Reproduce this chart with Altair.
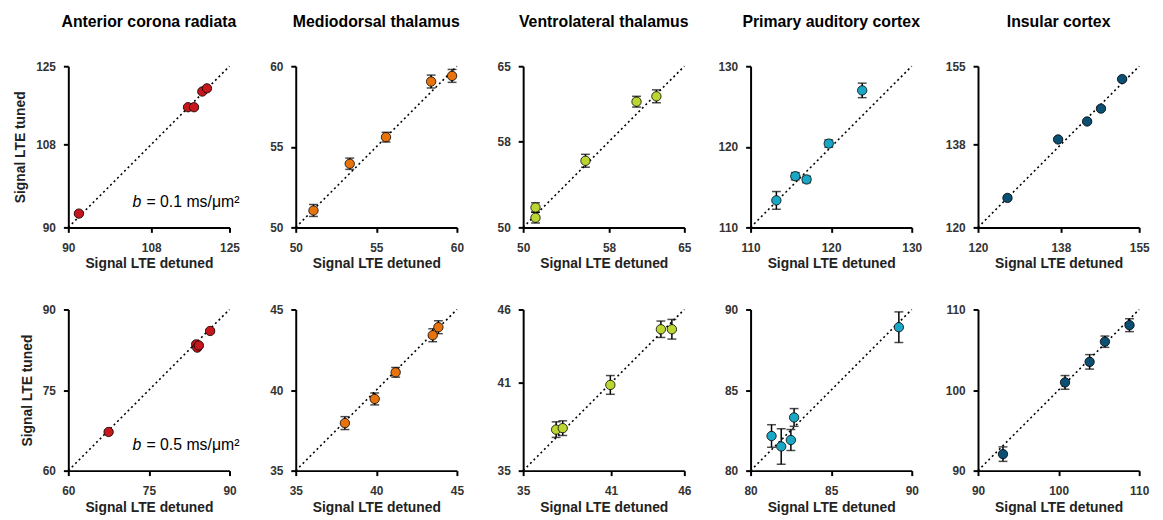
import altair as alt
import pandas as pd

regions = ["Anterior corona radiata", "Mediodorsal thalamus", "Ventrolateral thalamus",
           "Primary auditory cortex", "Insular cortex"]
colors = ["#c8161d", "#e8730c", "#bcd631", "#1aa7c6", "#0b5073"]
b_labels = ["0.1", "0.5"]

ticks_b01 = [[90, 108, 125], [50, 55, 60], [50, 58, 65], [110, 120, 130], [120, 138, 155]]
ticks_b05 = [[60, 75, 90], [35, 40, 45], [35, 41, 46], [80, 85, 90], [90, 100, 110]]

# b = 0.1 ms/um^2
det_b01 = [
    [92.3, 116.0, 117.3, 119.1, 120.1],
    [51.1, 53.35, 55.6, 58.4, 59.7],
    [51.15, 51.15, 55.8, 60.55, 62.4],
    [113.2, 115.55, 116.95, 119.7, 123.85],
    [126.4, 137.4, 143.7, 146.7, 151.3],
]
tun_b01 = [
    [93.0, 116.1, 116.1, 119.5, 120.2],
    [51.05, 53.95, 55.6, 59.05, 59.4],
    [50.9, 51.85, 56.2, 61.7, 62.2],
    [113.35, 116.35, 115.95, 120.4, 127.0],
    [126.4, 139.1, 143.0, 145.8, 152.2],
]
err_b01 = [
    [0.3, 0.3, 0.3, 0.3, 0.3],
    [0.37, 0.35, 0.3, 0.4, 0.4],
    [0.5, 0.45, 0.6, 0.5, 0.6],
    [1.1, 0.45, 0.4, 0.45, 0.9],
    [0.3, 0.3, 0.3, 0.3, 0.3],
]

# b = 0.5 ms/um^2
det_b05 = [
    [67.5, 83.8, 84.0, 84.3, 86.4],
    [38.05, 39.9, 41.2, 43.5, 43.85],
    [37.25, 37.7, 40.95, 44.4, 45.15],
    [81.3, 81.9, 82.5, 82.7, 89.2],
    [93.1, 100.8, 103.85, 105.75, 108.8],
]
tun_b05 = [
    [67.2, 83.5, 82.9, 83.3, 86.0],
    [37.95, 39.45, 41.1, 43.4, 43.9],
    [37.8, 37.9, 40.85, 44.65, 44.65],
    [82.15, 81.5, 81.9, 83.3, 88.9],
    [92.05, 100.95, 103.5, 106.0, 108.05],
]
err_b05 = [
    [0.3, 0.3, 0.3, 0.3, 0.3],
    [0.4, 0.37, 0.3, 0.4, 0.4],
    [0.53, 0.5, 0.64, 0.56, 0.67],
    [0.7, 1.1, 0.65, 0.55, 0.95],
    [0.9, 0.85, 0.9, 0.7, 0.8],
]

FONT = "Liberation Sans"
W = 163
H = 163


def panel(det, tun, err, ticks, color, title, first_col, b_label):
    df = pd.DataFrame({"detuned": det, "tuned": tun, "err": err})
    df["lo"] = df["tuned"] - df["err"]
    df["hi"] = df["tuned"] + df["err"]
    dom = [ticks[0], ticks[-1]]
    sc = alt.Scale(domain=dom, nice=False, zero=False)
    xax = alt.Axis(values=ticks, title="Signal LTE detuned")
    yax = alt.Axis(values=ticks, title="Signal LTE tuned" if first_col else None)

    diag = alt.Chart(pd.DataFrame({"v": dom})).mark_line(
        strokeDash=[2, 3], color="black", strokeWidth=1.6
    ).encode(
        x=alt.X("v:Q", scale=sc, axis=xax),
        y=alt.Y("v:Q", scale=sc, axis=yax),
    )
    base = alt.Chart(df)
    rule = base.mark_rule(color="black", strokeWidth=1.5).encode(
        x=alt.X("detuned:Q", scale=sc, axis=xax),
        y=alt.Y("lo:Q", scale=sc, axis=yax),
        y2="hi:Q",
    )
    cap_lo = base.mark_tick(orient="horizontal", size=9, thickness=1.5, color="black").encode(
        x=alt.X("detuned:Q", scale=sc, axis=xax),
        y=alt.Y("lo:Q", scale=sc, axis=yax),
    )
    cap_hi = base.mark_tick(orient="horizontal", size=9, thickness=1.5, color="black").encode(
        x=alt.X("detuned:Q", scale=sc, axis=xax),
        y=alt.Y("hi:Q", scale=sc, axis=yax),
    )
    pts = base.mark_circle(size=90, color=color, opacity=1, stroke="black", strokeWidth=0.8).encode(
        x=alt.X("detuned:Q", scale=sc, axis=xax),
        y=alt.Y("tuned:Q", scale=sc, axis=yax),
    )
    layers = [diag, rule, cap_lo, cap_hi, pts]
    if first_col:
        tb = alt.Chart(pd.DataFrame({"t": ["b"]})).mark_text(
            font=FONT, fontSize=16, fontStyle="italic", align="left", baseline="alphabetic", color="black"
        ).encode(x=alt.value(65), y=alt.value(142), text="t:N")
        tr = alt.Chart(pd.DataFrame({"t": ["= " + b_label + " ms/\u03bcm\u00b2"]})).mark_text(
            font=FONT, fontSize=16, align="left", baseline="alphabetic", color="black"
        ).encode(x=alt.value(79), y=alt.value(142), text="t:N")
        layers += [tb, tr]
    ch = alt.layer(*layers).properties(width=W, height=H)
    if title:
        ch = ch.properties(title=title)
    return ch


panels = []
for i in range(5):
    panels.append(panel(det_b01[i], tun_b01[i], err_b01[i], ticks_b01[i], colors[i], regions[i], i == 0, b_labels[0]))
for i in range(5):
    panels.append(panel(det_b05[i], tun_b05[i], err_b05[i], ticks_b05[i], colors[i], None, i == 0, b_labels[1]))

chart = alt.concat(
    *panels, columns=5, spacing={"row": 83, "column": 67}, bounds="flush"
).properties(
    padding={"left": 5, "top": 3, "right": 5, "bottom": 0}
).configure_view(
    stroke=None
).configure_axis(
    grid=False,
    domainColor="black",
    domainWidth=2,
    tickColor="black",
    tickWidth=2,
    tickSize=5,
    labelFont=FONT,
    labelFontSize=12,
    labelFontWeight="bold",
    labelColor="#333333",
    labelFlush=False,
    labelOverlap=False,
    titleFont=FONT,
    titleFontSize=14,
    titleFontWeight="bold",
    titleColor="#222222",
).configure_axisX(
    labelPadding=10,
    titlePadding=4,
).configure_axisY(
    labelPadding=8,
    titlePadding=8,
).configure_title(
    font=FONT, fontSize=16, fontWeight="bold", anchor="middle", offset=31, color="black"
)

chart.save("out.html", embed_options={"renderer": "svg", "actions": False})
